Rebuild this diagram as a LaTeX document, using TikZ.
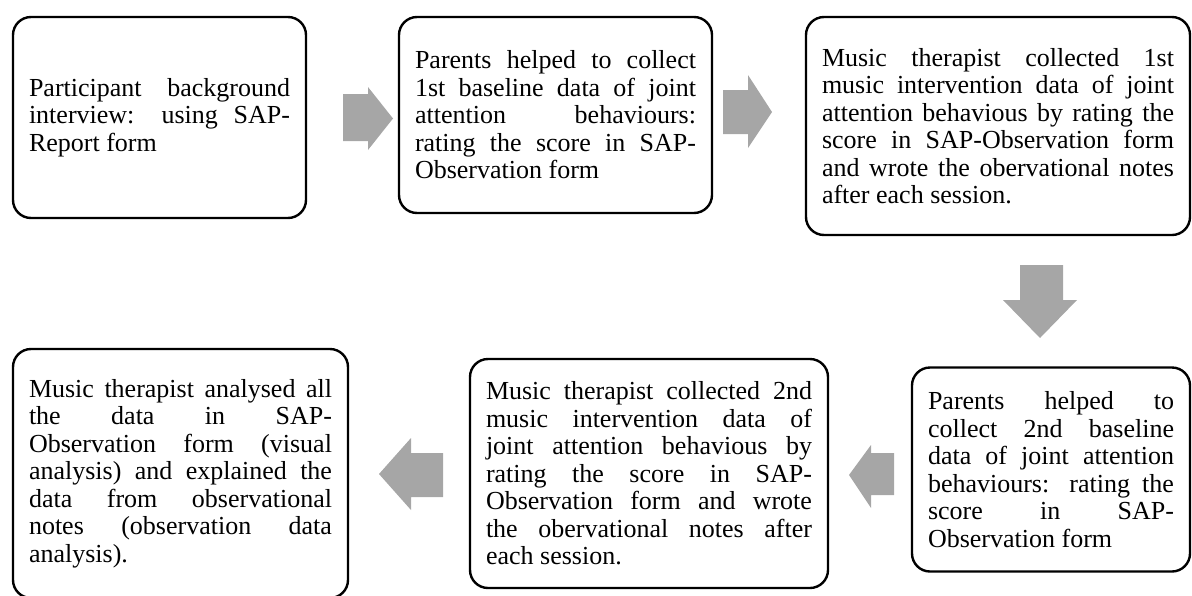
\documentclass[tikz,border=0pt]{standalone}
\usepackage{fontspec}
\setmainfont{Liberation Serif}
\usetikzlibrary{positioning}
\definecolor{arrowgray}{RGB}{166,166,166}
\tolerance=10000
\hyphenpenalty=10000

\tikzset{
  stepbox/.style={draw=black, line width=2.4pt, rounded corners=18pt,
    inner xsep=16pt, inner ysep=0pt,
    font=\fontsize{26pt}{27.5pt}\selectfont},
  flowarrow/.style={fill=arrowgray, draw=none}
}

\begin{document}
\begin{tikzpicture}[x=1pt,y=-1pt]
    \useasboundingbox (0,0) rectangle (1192,595);

    % top row
    \node[stepbox, minimum height=201pt] (interview) at (159.5,117.5)
      {\parbox{261pt}{Participant background\linebreak interview: using SAP-\linebreak Report form}};
    \node[stepbox, minimum height=196pt] (baselineone) at (555.5,115)
      {\parbox{281pt}{Parents helped to collect\linebreak 1st baseline data of joint\linebreak
       attention behaviours:\linebreak rating the score in SAP-\linebreak Observation form}};
    \node[stepbox, minimum height=218pt] (musicone) at (998,126)
      {\parbox{352pt}{Music therapist collected 1st\linebreak music intervention data of joint\linebreak
       attention behavious by rating the\linebreak score in SAP-Observation form\linebreak
       and wrote the obervational notes\linebreak after each session.}};

    % bottom row
    \node[stepbox, minimum height=204pt] (baselinetwo) at (1051,469.5)
      {\parbox{246pt}{Parents helped to\linebreak collect 2nd baseline\linebreak data of joint attention\linebreak
       behaviours: rating the\linebreak score in SAP-\linebreak Observation form}};
    \node[stepbox, minimum height=229pt] (musictwo) at (649,473.5)
      {\parbox{326pt}{Music therapist collected 2nd\linebreak music intervention data of\linebreak
       joint attention behavious by\linebreak rating the score in SAP-\linebreak
       Observation form and wrote\linebreak the obervational notes after\linebreak each session.}};
    \node[stepbox, minimum height=249pt] (analysis) at (180.5,473.5)
      {\parbox{303pt}{Music therapist analysed all\linebreak the data in SAP-\linebreak
       Observation form (visual\linebreak analysis) and explained the\linebreak
       data from observational\linebreak notes (observation data\linebreak analysis).}};

    % block arrows
    \fill[flowarrow] (343,94) -- (368,94) -- (368,87) -- (393,118.5) -- (368,150) -- (368,141) -- (343,141) -- cycle;
    \fill[flowarrow] (723,90) -- (748,90) -- (748,75) -- (772,112) -- (748,148) -- (748,134) -- (723,134) -- cycle;
    \fill[flowarrow] (1020,265) -- (1063,265) -- (1063,300) -- (1077,300) -- (1040,338) -- (1003,300) -- (1020,300) -- cycle;
    \fill[flowarrow] (894,453) -- (871,453) -- (871,445) -- (849,475) -- (871,508) -- (871,495) -- (894,495) -- cycle;
    \fill[flowarrow] (443,453) -- (411,453) -- (411,438) -- (379,474) -- (411,510) -- (411,497) -- (443,497) -- cycle;
\end{tikzpicture}
\end{document}
